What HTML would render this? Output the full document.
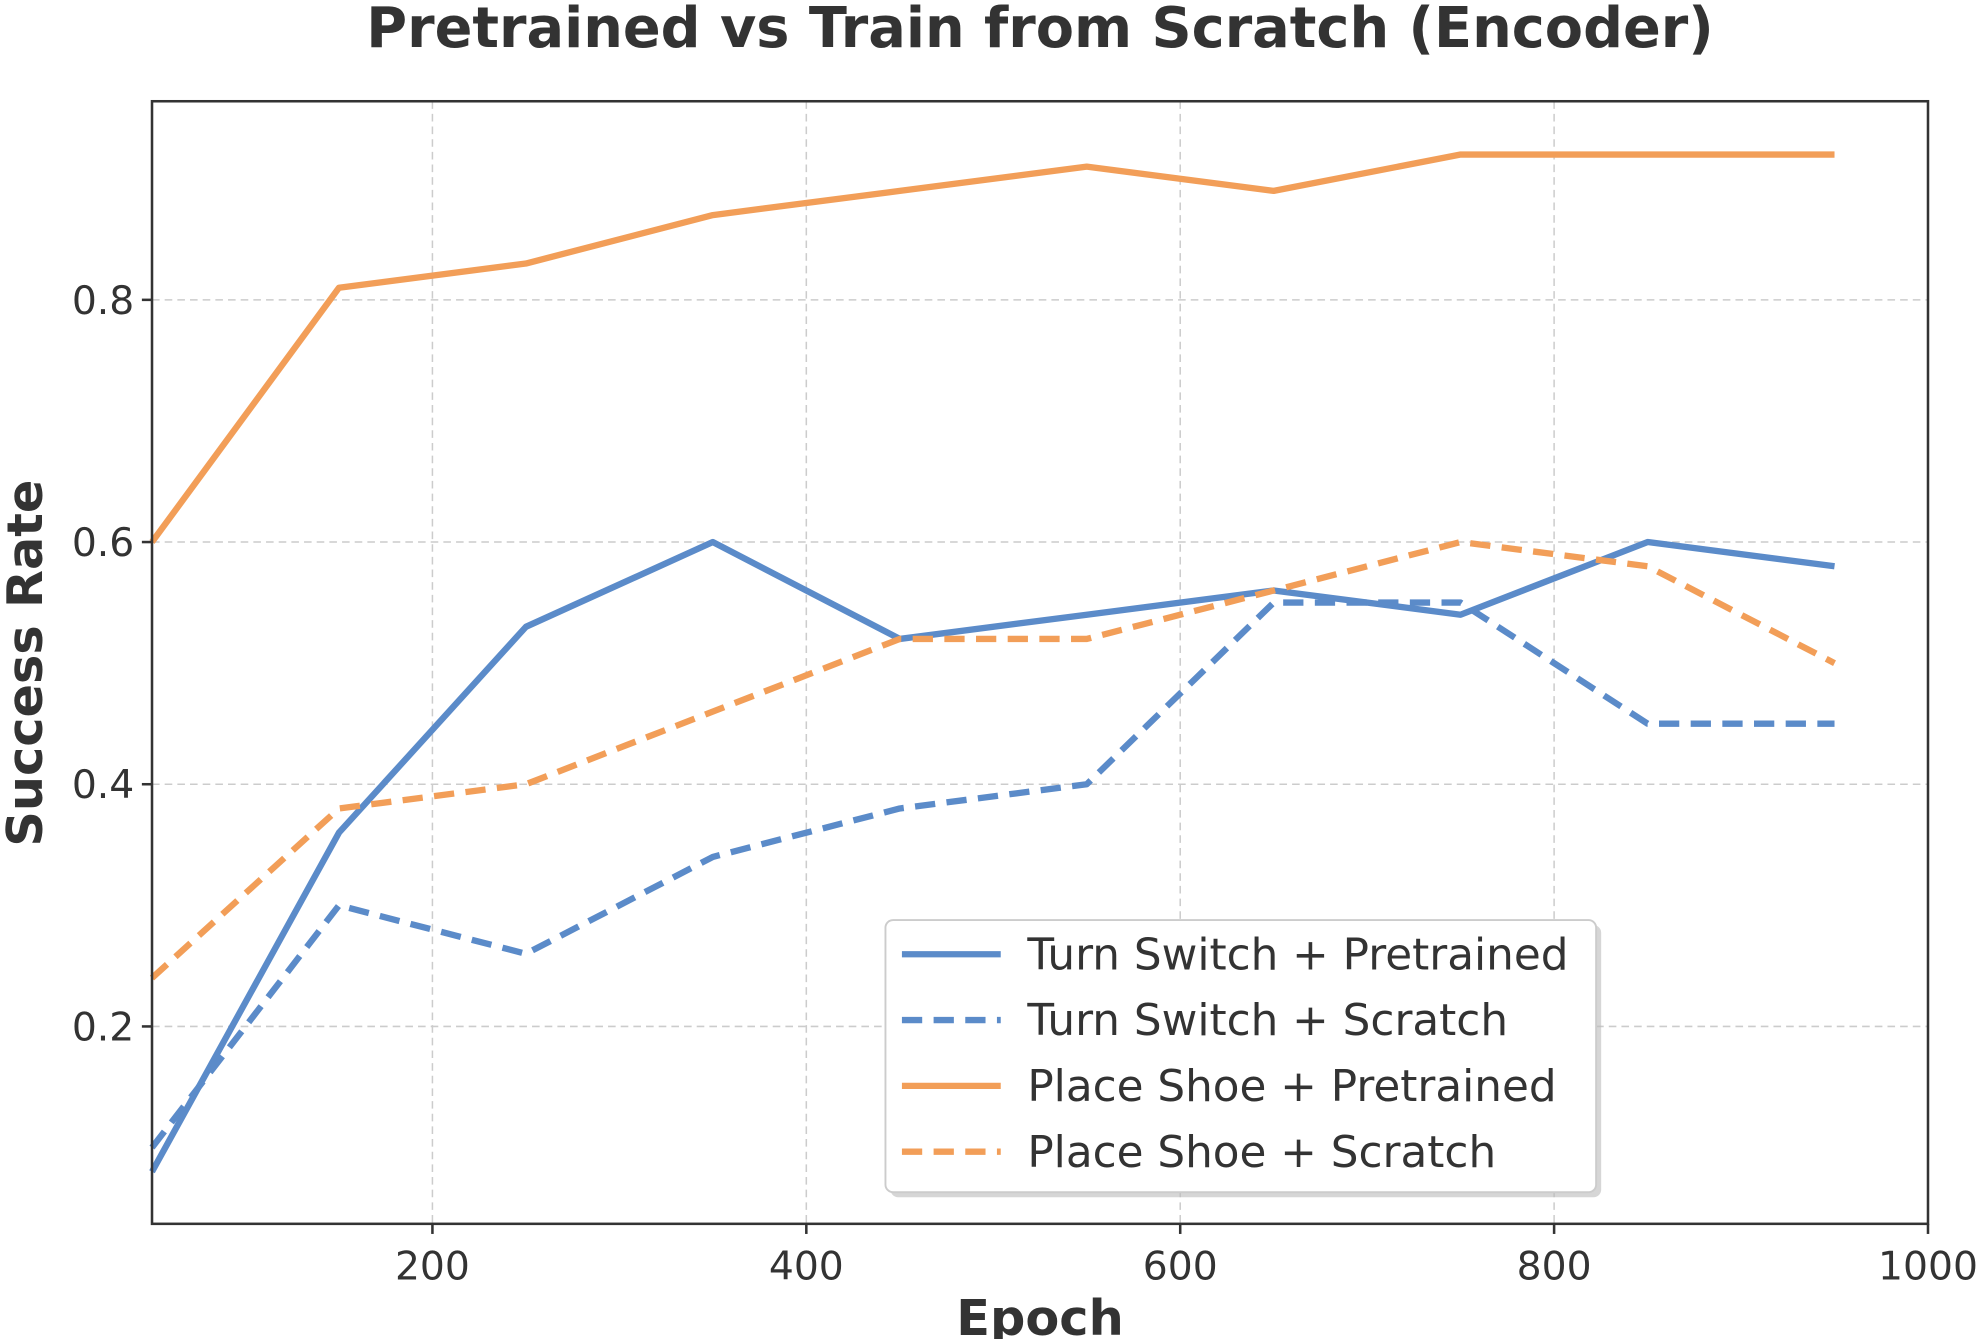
<!DOCTYPE html>
<html><head><meta charset="utf-8"><style>
html,body{margin:0;padding:0;background:#fff;}
svg{display:block;font-family:"DejaVu Sans","Liberation Sans",sans-serif;}
</style></head><body>
<svg id="chart" width="1985" height="1339" viewBox="0 0 1567 1058" preserveAspectRatio="none" xmlns="http://www.w3.org/2000/svg">
<rect x="0" y="0" width="1567" height="1058" fill="#fff"/>
<text x="821" y="37" text-anchor="middle" font-size="44" font-weight="bold" fill="#333">Pretrained vs Train from Scratch (Encoder)</text>
<g id="grid"></g>
<g id="series"></g>
<rect x="120" y="80" width="1402" height="887" fill="none" stroke="#333" stroke-width="2"/>
<g id="ticks"></g>
<text x="821" y="1055" text-anchor="middle" font-size="39" font-weight="bold" fill="#333">Epoch</text>
<text transform="translate(33,524) rotate(-90)" text-anchor="middle" font-size="39" font-weight="bold" fill="#333">Success Rate</text>
<g id="legend">
<rect x="703" y="731" width="561" height="215" rx="6" fill="#bbb" opacity="0.6"/>
<rect x="699" y="727" width="561" height="215" rx="6" fill="#fff" stroke="#ccc" stroke-width="1.5"/>
</g>
</svg>
<script>
const epochs=[50,150,250,350,450,550,650,750,850,950];
const turnPre=[0.08,0.36,0.53,0.60,0.52,0.54,0.56,0.54,0.60,0.58];
const turnScr=[0.10,0.30,0.26,0.34,0.38,0.40,0.55,0.55,0.45,0.45];
const shoePre=[0.60,0.81,0.83,0.87,0.89,0.91,0.89,0.92,0.92,0.92];
const shoeScr=[0.24,0.38,0.40,0.46,0.52,0.52,0.56,0.60,0.58,0.50];
const xTicks=[200,400,600,800,1000];
const yTicks=[0.2,0.4,0.6,0.8];
const names=["Turn Switch + Pretrained","Turn Switch + Scratch","Place Shoe + Pretrained","Place Shoe + Scratch"];
const NS="http://www.w3.org/2000/svg";
const L=120,R=1522,T=80,B=967,xmin=50,xmax=1000,ymin=0.037,ymax=0.964;
const xs=v=>L+(v-xmin)/(xmax-xmin)*(R-L);
const ys=v=>B-(v-ymin)/(ymax-ymin)*(B-T);
function mk(tag,attrs,parent){const e=document.createElementNS(NS,tag);for(const k in attrs)e.setAttribute(k,attrs[k]);parent.appendChild(e);return e;}
const grid=document.getElementById('grid'),ticks=document.getElementById('ticks');
xTicks.forEach(t=>{const x=xs(t);
 if(t<xmax){const g=mk('line',{x1:x,x2:x,y1:T,y2:B,stroke:'#ccc','stroke-width':1.2,'stroke-dasharray':'6,4'},grid);
 
 }
 const tk=mk('line',{x1:x,x2:x,y1:B,y2:B+8,stroke:'#333','stroke-width':2},ticks);
 
 
 const tx=mk('text',{x:x,y:B+44,'text-anchor':'middle','font-size':31,fill:'#333'},ticks);tx.textContent=t;
 
 
});
yTicks.forEach(t=>{const y=ys(t);
 const g=mk('line',{x1:L,x2:R,y1:y,y2:y,stroke:'#ccc','stroke-width':1.2,'stroke-dasharray':'6,4'},grid);
 
 
 const tk=mk('line',{x1:L-8,x2:L,y1:y,y2:y,stroke:'#333','stroke-width':2},ticks);
 
 
 const tx=mk('text',{x:L-14,y:y+11,'text-anchor':'end','font-size':31,fill:'#333'},ticks);tx.textContent=t.toFixed(1);
 
 
});
const blue='#5b8bc9',orange='#f29e58';
const series=[[turnPre,blue,''],[turnScr,blue,'16,9'],[shoePre,orange,''],[shoeScr,orange,'16,9']];
const sg=document.getElementById('series'),lg=document.getElementById('legend');
series.forEach((s,i)=>{
 const pts=epochs.map((e,j)=>xs(e)+','+ys(s[0][j])).join(' ');
 const p=mk('polyline',{points:pts,fill:'none',stroke:s[1],'stroke-width':5,'stroke-dasharray':s[2],'stroke-linejoin':'round'},sg);
 
 
 const ly=754+i*52;
 const ll=mk('line',{x1:712,x2:790,y1:ly,y2:ly,stroke:s[1],'stroke-width':5,'stroke-dasharray':s[2]},lg);
 
 
 const lt=mk('text',{x:811,y:ly+12,'font-size':34.5,fill:'#333'},lg);lt.textContent=names[i];
 
 
});
</script>
</body></html>
